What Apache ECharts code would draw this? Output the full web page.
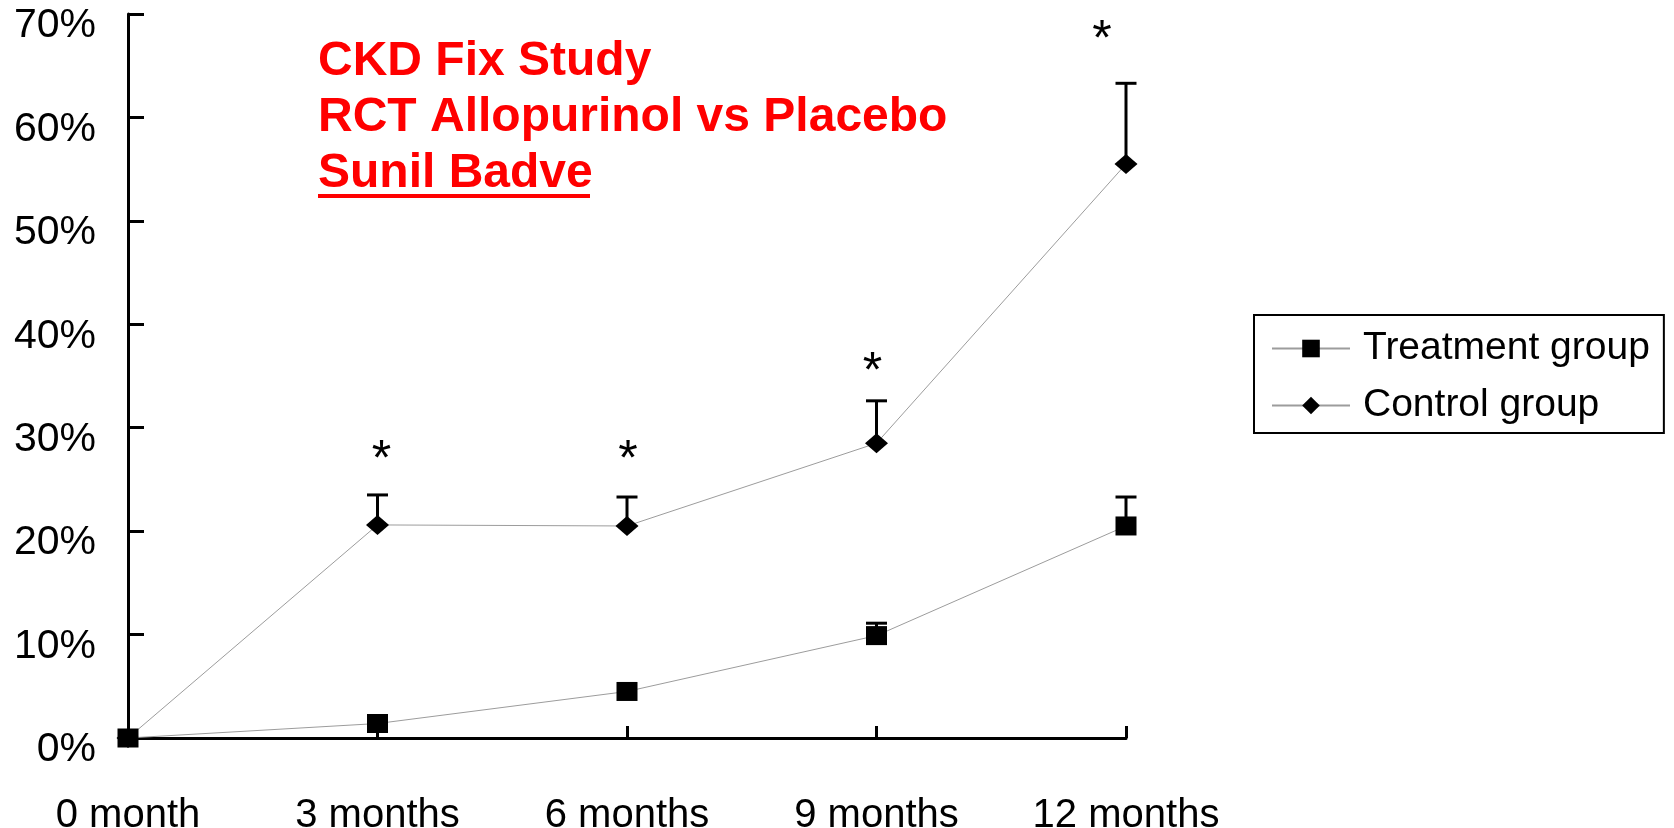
<!DOCTYPE html>
<html>
<head>
<meta charset="utf-8">
<title>CKD Fix Study</title>
<script src="https://cdn.jsdelivr.net/npm/echarts@6/dist/echarts.min.js"></script>
<style>
  html, body { margin: 0; padding: 0; background: #ffffff; }
  #chart { width: 1674px; height: 828px; }
</style>
</head>
<body>
<div id="chart"></div>
<script>
// Follow-up visits
const months = ['0 month', '3 months', '6 months', '9 months', '12 months'];

// Percentage of patients reaching the endpoint (%)
const treatment = [0, 1.4, 4.5, 9.9, 20.5];
const control = [0, 20.6, 20.5, 28.5, 55.5];

// Upper end of the error bars (%), null where no bar is drawn
const treatmentUpper = [null, null, null, 11.1, 23.3];
const controlUpper = [null, 23.5, 23.3, 32.6, 63.3];

// Visits where the difference is significant (marked with *)
const significant = [false, true, true, true, true];

// Value axis range (%)
const yMin = 0;
const yMax = 70;
const yStep = 10;

// ---- styling ----
const FONT = '"Liberation Sans", Arial, sans-serif';
const LINE_GREY = '#9c9c9c';
// placement of each asterisk relative to the top of its error bar, px
const starOffset = [[0, -44], [4, -44], [1, -46], [-4, -38], [-24, -52]];

function errorRows(values, uppers, marks) {
  const rows = [];
  values.forEach((v, i) => {
    if (uppers[i] != null) rows.push([i, v, uppers[i], marks && marks[i] ? 1 : 0]);
  });
  return rows;
}

function renderErrorBar(params, api) {
  const i = api.value(0);
  const base = api.coord([i, api.value(1)]);
  const top = api.coord([i, api.value(2)]);
  const half = 10.5;
  const children = [
    { type: 'line', shape: { x1: base[0], y1: base[1], x2: top[0], y2: top[1] },
      style: { stroke: '#000', lineWidth: 3 } },
    { type: 'line', shape: { x1: top[0] - half, y1: top[1], x2: top[0] + half, y2: top[1] },
      style: { stroke: '#000', lineWidth: 3 } }
  ];
  if (api.value(3)) {
    const off = starOffset[i];
    children.push({
      type: 'text',
      x: top[0] + off[0],
      y: top[1] + off[1] + 10,
      style: { text: '*', font: '50px ' + FONT, fill: '#000', align: 'center', verticalAlign: 'middle' }
    });
  }
  return { type: 'group', children };
}

const chart = echarts.init(document.getElementById('chart'), null, { renderer: 'canvas' });

chart.setOption({
  animation: false,
  backgroundColor: '#ffffff',
  grid: { left: 128, right: 548, top: 14, bottom: 90, outerBoundsMode: 'none', containLabel: false },
  graphic: [
    {
      type: 'text', left: 318, top: 34, z: 10,
      style: {
        text: 'CKD Fix Study\nRCT Allopurinol vs Placebo\nSunil Badve',
        font: 'bold 48px ' + FONT, fill: '#ff0000', lineHeight: 56
      }
    },
    {
      type: 'rect', left: 318, top: 194, z: 10,
      shape: { width: 272, height: 4 },
      style: { fill: '#ff0000' }
    }
  ],
  legend: {
    orient: 'vertical',
    left: 1254, top: 315,
    data: ['Treatment group', 'Control group'],
    itemWidth: 78, itemHeight: 22, itemGap: 18,
    padding: [14, 14, 8, 17],
    borderColor: '#000', borderWidth: 2,
    textStyle: { fontFamily: FONT, fontSize: 39, color: '#000', padding: [0, 0, 0, 8] }
  },
  xAxis: {
    type: 'category',
    data: months,
    boundaryGap: false,
    axisLine: { lineStyle: { color: '#000', width: 3 } },
    axisTick: { inside: true, length: 12, lineStyle: { color: '#000', width: 3 } },
    axisLabel: { margin: 58, fontFamily: FONT, fontSize: 40, color: '#000', interval: 0 },
    splitLine: { show: false }
  },
  yAxis: {
    type: 'value',
    min: yMin, max: yMax, interval: yStep,
    axisLine: { show: true, lineStyle: { color: '#000', width: 3 } },
    axisTick: { show: true, inside: true, length: 16, lineStyle: { color: '#000', width: 3 } },
    axisLabel: {
      margin: 32, fontFamily: FONT, fontSize: 41, color: '#000',
      formatter: '{value}%', verticalAlign: 'top', lineHeight: 24
    },
    splitLine: { show: false }
  },
  series: [
    {
      name: 'Control group',
      type: 'line',
      data: control,
      symbol: 'diamond',
      symbolSize: [23, 20],
      lineStyle: { color: LINE_GREY, width: 1 },
      itemStyle: { color: '#000' },
      z: 3
    },
    {
      name: 'Treatment group',
      type: 'line',
      data: treatment,
      symbol: 'rect',
      symbolSize: [21, 19],
      lineStyle: { color: LINE_GREY, width: 1 },
      itemStyle: { color: '#000' },
      z: 4
    },
    {
      type: 'custom',
      renderItem: renderErrorBar,
      data: errorRows(control, controlUpper, significant),
      encode: { x: 0, y: [1, 2] },
      silent: true,
      z: 2
    },
    {
      type: 'custom',
      renderItem: renderErrorBar,
      data: errorRows(treatment, treatmentUpper, null),
      encode: { x: 0, y: [1, 2] },
      silent: true,
      z: 2
    }
  ]
});
</script>
</body>
</html>
